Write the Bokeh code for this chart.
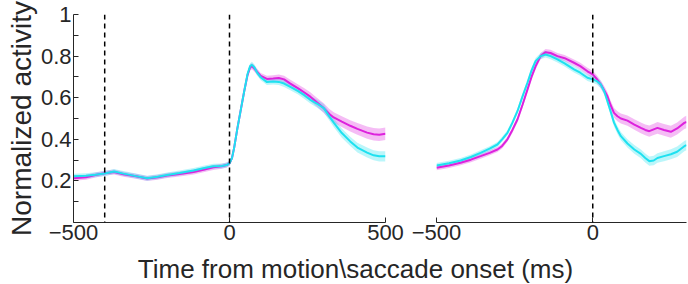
from bokeh.plotting import figure
from bokeh.models import Span, FixedTicker, Range1d, ColumnDataSource
from bokeh.layouts import column, row
from bokeh.embed import file_html
from bokeh.resources import INLINE

# ---------------- data ----------------
# Left panel: time from motion onset (ms)
t_left = [-500, -460, -430, -400, -370, -340, -300, -264, -230, -200,
          -160, -115, -80, -52, -25, -9, 0, 8, 15, 25,
          36, 47, 58, 66, 72, 80, 88, 100, 120, 140,
          158, 175, 195, 220, 240, 259, 280, 302, 320, 334,
          360, 387, 410, 441, 462, 480, 500]
mag_left = [0.213, 0.218, 0.228, 0.237, 0.243, 0.232, 0.222, 0.212, 0.218, 0.226,
            0.233, 0.243, 0.255, 0.265, 0.270, 0.276, 0.285, 0.31, 0.36, 0.45,
            0.54, 0.63, 0.71, 0.745, 0.752, 0.74, 0.725, 0.705, 0.69, 0.692,
            0.695, 0.688, 0.668, 0.645, 0.625, 0.605, 0.578, 0.55, 0.522, 0.505,
            0.485, 0.465, 0.45, 0.432, 0.424, 0.422, 0.427]
cyan_left = [0.222, 0.225, 0.23, 0.236, 0.245, 0.235, 0.223, 0.213, 0.22, 0.228,
             0.238, 0.25, 0.262, 0.27, 0.272, 0.276, 0.285, 0.31, 0.36, 0.45,
             0.54, 0.63, 0.715, 0.752, 0.758, 0.745, 0.722, 0.698, 0.675, 0.678,
             0.676, 0.668, 0.652, 0.632, 0.612, 0.59, 0.572, 0.55, 0.51, 0.48,
             0.43, 0.39, 0.36, 0.336, 0.323, 0.318, 0.318]
mag_left_err = [0.012, 0.012, 0.012, 0.012, 0.012, 0.012, 0.012, 0.012, 0.012, 0.012,
                0.012, 0.012, 0.012, 0.012, 0.012, 0.012, 0.012, 0.012, 0.012, 0.012,
                0.012, 0.012, 0.013, 0.014, 0.015, 0.015, 0.015, 0.014, 0.015, 0.016,
                0.016, 0.017, 0.018, 0.019, 0.02, 0.021, 0.022, 0.023, 0.024, 0.025,
                0.026, 0.027, 0.028, 0.029, 0.03, 0.03, 0.03]
cyan_left_err = [0.012, 0.012, 0.012, 0.012, 0.012, 0.012, 0.012, 0.012, 0.012, 0.012,
                 0.012, 0.012, 0.012, 0.012, 0.012, 0.012, 0.012, 0.012, 0.012, 0.012,
                 0.012, 0.012, 0.013, 0.014, 0.015, 0.015, 0.014, 0.014, 0.014, 0.015,
                 0.015, 0.016, 0.016, 0.017, 0.018, 0.018, 0.019, 0.02, 0.02, 0.021,
                 0.022, 0.022, 0.023, 0.024, 0.024, 0.025, 0.025]

# Right panel: time from saccade onset (ms)
t_right = [-500, -460, -423, -390, -359, -330, -305, -290, -273, -257,
           -241, -225, -209, -196, -183, -167, -151, -135, -113, -90,
           -60, -40, -17, 0, 13, 26, 37, 47, 57, 68,
           79, 90, 111, 133, 154, 168, 181, 195, 207, 228,
           250, 270, 293, 300]
mag_right = [0.263, 0.274, 0.287, 0.302, 0.319, 0.335, 0.351, 0.368, 0.40, 0.445,
             0.495, 0.565, 0.639, 0.70, 0.751, 0.80, 0.819, 0.815, 0.80, 0.79,
             0.768, 0.752, 0.727, 0.712, 0.69, 0.663, 0.635, 0.607, 0.565, 0.527,
             0.511, 0.50, 0.49, 0.471, 0.455, 0.445, 0.439, 0.448, 0.455, 0.445,
             0.436, 0.452, 0.479, 0.483]
cyan_right = [0.274, 0.285, 0.298, 0.315, 0.335, 0.355, 0.375, 0.40, 0.431, 0.48,
              0.535, 0.605, 0.672, 0.73, 0.776, 0.80, 0.808, 0.80, 0.784, 0.765,
              0.736, 0.72, 0.696, 0.688, 0.68, 0.663, 0.63, 0.583, 0.535, 0.48,
              0.445, 0.415, 0.38, 0.351, 0.33, 0.31, 0.295, 0.298, 0.31, 0.319,
              0.328, 0.34, 0.367, 0.372]
mag_right_err = [0.012, 0.012, 0.012, 0.012, 0.012, 0.012, 0.012, 0.012, 0.012, 0.013,
                 0.013, 0.014, 0.014, 0.015, 0.015, 0.015, 0.015, 0.015, 0.015, 0.015,
                 0.016, 0.016, 0.017, 0.018, 0.018, 0.019, 0.02, 0.021, 0.022, 0.023,
                 0.024, 0.024, 0.025, 0.025, 0.026, 0.026, 0.027, 0.027, 0.028, 0.028,
                 0.029, 0.029, 0.03, 0.03]
cyan_right_err = [0.012, 0.012, 0.012, 0.012, 0.012, 0.012, 0.012, 0.012, 0.012, 0.013,
                  0.013, 0.014, 0.014, 0.015, 0.015, 0.015, 0.015, 0.015, 0.015, 0.015,
                  0.015, 0.015, 0.016, 0.016, 0.016, 0.017, 0.017, 0.018, 0.018, 0.019,
                  0.019, 0.02, 0.02, 0.021, 0.021, 0.022, 0.022, 0.023, 0.023, 0.024,
                  0.024, 0.025, 0.025, 0.025]

events_left = [-400, 0]
events_right = [0]

y_ticks = [0.2, 0.4, 0.6, 0.8, 1.0]
y_minor = [0.1, 0.3, 0.5, 0.7, 0.9]
x_ticks_left = [-500, 0, 500]
x_ticks_right = [-500, 0]

y_label = "Normalized activity"
x_label = "Time from motion\\saccade onset (ms)"

# ---------------- style ----------------
FONT = "Liberation Sans"
TXT = "#262626"
MAG = "#DD22DD"
CYN = "#1EE1F0"


def style_axis(ax):
    ax.axis_line_color = TXT
    ax.axis_line_width = 1
    ax.major_tick_line_color = TXT
    ax.minor_tick_line_color = TXT
    ax.major_tick_in = 5
    ax.major_tick_out = 0
    ax.minor_tick_in = 5
    ax.minor_tick_out = 0
    ax.major_label_text_font = FONT
    ax.major_label_text_font_size = "22px"
    ax.major_label_text_color = TXT
    ax.major_label_standoff = 2
    ax.axis_label_text_font = FONT
    ax.axis_label_text_font_size = "28px"
    ax.axis_label_text_font_style = "normal"
    ax.axis_label_text_color = TXT
    ax.axis_label_standoff = 1


def draw_panel(p, t, mag, mag_err, cyn, cyn_err, events):
    src = ColumnDataSource(dict(
        t=t, mag=mag, cyn=cyn,
        mag_lo=[v - e for v, e in zip(mag, mag_err)],
        mag_hi=[v + e for v, e in zip(mag, mag_err)],
        cyn_lo=[v - e for v, e in zip(cyn, cyn_err)],
        cyn_hi=[v + e for v, e in zip(cyn, cyn_err)],
    ))
    p.varea(x="t", y1="mag_lo", y2="mag_hi", source=src, fill_color=MAG, fill_alpha=0.3)
    p.varea(x="t", y1="cyn_lo", y2="cyn_hi", source=src, fill_color=CYN, fill_alpha=0.3)
    p.line(x="t", y="mag", source=src, line_color=MAG, line_width=2)
    p.line(x="t", y="cyn", source=src, line_color=CYN, line_width=2)
    for ev in events:
        p.add_layout(Span(location=ev, dimension="height", line_color="black",
                          line_dash="5 4", line_width=1.5))
    p.xgrid.visible = False
    p.ygrid.visible = False
    p.outline_line_color = None


p1 = figure(width=404, height=250, x_range=Range1d(-500, 500), y_range=Range1d(0, 1),
            output_backend="svg", toolbar_location=None, title=None,
            min_border_left=73, min_border_right=19, min_border_top=14, min_border_bottom=28)
draw_panel(p1, t_left, mag_left, mag_left_err, cyan_left, cyan_left_err, events_left)
p1.xaxis.ticker = FixedTicker(ticks=x_ticks_left, minor_ticks=[])
p1.yaxis.ticker = FixedTicker(ticks=y_ticks, minor_ticks=y_minor)
p1.yaxis.major_label_overrides = {1: "1"}
p1.yaxis.axis_label = y_label
style_axis(p1.xaxis[0])
style_axis(p1.yaxis[0])

p2 = figure(width=284, height=250, x_range=Range1d(-500, 300), y_range=Range1d(0, 1),
            output_backend="svg", toolbar_location=None, y_axis_location=None, title=None,
            min_border_left=32, min_border_right=2, min_border_top=14, min_border_bottom=28)
draw_panel(p2, t_right, mag_right, mag_right_err, cyan_right, cyan_right_err, events_right)
p2.xaxis.ticker = FixedTicker(ticks=x_ticks_right, minor_ticks=[])
style_axis(p2.xaxis[0])

# shared x-axis title: an empty strip whose (invisible) top axis carries the label
p3 = figure(width=688, height=34, x_range=Range1d(0, 1), y_range=Range1d(0, 1),
            output_backend="svg", toolbar_location=None, title=None,
            x_axis_location="above", y_axis_location=None,
            min_border_left=22, min_border_right=0, min_border_top=0, min_border_bottom=0)
p3.outline_line_color = None
p3.xgrid.visible = False
p3.ygrid.visible = False
ax3 = p3.xaxis[0]
ax3.ticker = FixedTicker(ticks=[], minor_ticks=[])
ax3.axis_line_color = None
ax3.major_tick_in = 0
ax3.major_tick_out = 0
ax3.minor_tick_in = 0
ax3.minor_tick_out = 0
ax3.major_label_standoff = 0
ax3.axis_label_standoff = 0
ax3.axis_label = x_label
ax3.axis_label_text_font = FONT
ax3.axis_label_text_font_size = "26px"
ax3.axis_label_text_font_style = "normal"
ax3.axis_label_text_color = TXT

layout = column(row(p1, p2), p3)
open("out.html", "w").write(file_html(layout, INLINE))
